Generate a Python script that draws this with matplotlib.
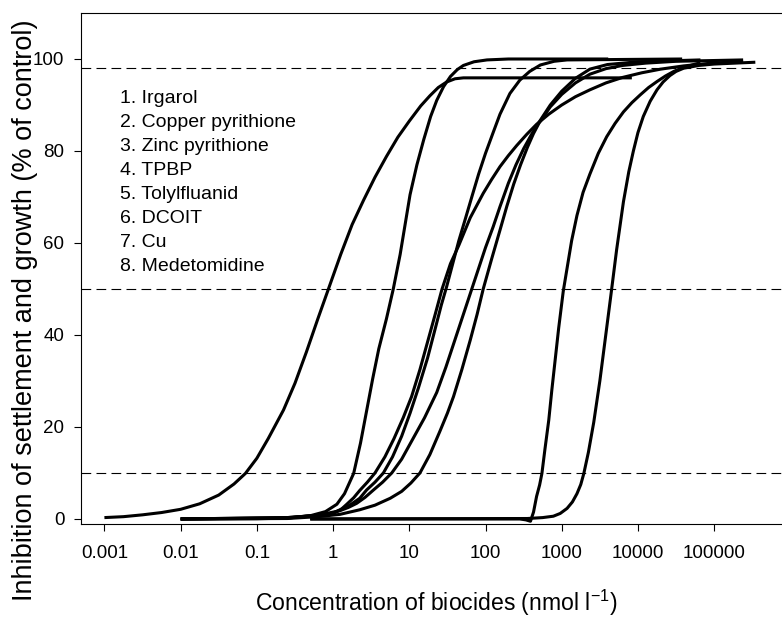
import matplotlib
matplotlib.use("Agg")
import matplotlib.pyplot as plt
from matplotlib.ticker import NullLocator
import numpy as np

plt.rcParams["font.family"] = ["Liberation Sans", "DejaVu Sans"]
plt.rcParams["mathtext.fontset"] = "custom"
plt.rcParams["mathtext.rm"] = "Liberation Sans"
plt.rcParams["mathtext.it"] = "Liberation Sans:italic"
plt.rcParams["lines.scale_dashes"] = False

# log10 of concentration (nmol/l) and inhibition (% of control)
IRGAROL_LOGC = [-3.0, -2.75, -2.5, -2.25, -2.0, -1.75, -1.5, -1.3, -1.15, -1.0, -0.85,
                -0.65, -0.5, -0.35, -0.2, -0.05, 0.1, 0.25, 0.4, 0.55, 0.7, 0.85, 1.0,
                1.15, 1.27, 1.38, 1.49, 1.6, 1.71, 3.92]
IRGAROL_INH = [0.3, 0.5, 0.9, 1.4, 2.1, 3.3, 5.2, 7.6, 9.9, 13.2, 17.5,
               23.7, 29.5, 36.3, 43.5, 50.5, 57.5, 64.0, 69.3, 74.3, 78.8, 83.0, 86.5,
               89.8, 92.0, 93.8, 95.0, 95.7, 95.9, 95.9]

CUPYR_LOGC = [-2.0, -1.0, -0.6, -0.3, -0.1, 0.05, 0.15, 0.27, 0.36, 0.44, 0.52, 0.6,
              0.7, 0.79, 0.88, 0.95, 1.01, 1.1, 1.19, 1.28, 1.36, 1.45, 1.54, 1.63,
              1.71, 1.85, 2.02, 2.3, 3.61]
CUPYR_INH = [0.0, 0.05, 0.2, 0.7, 1.6, 3.2, 5.5, 9.9, 16.5, 23.5, 30.5, 37.0,
             43.5, 50.0, 57.5, 64.5, 70.5, 77.0, 82.5, 87.5, 91.0, 94.0, 96.2, 97.7,
             98.6, 99.4, 99.8, 100.0, 100.0]

ZNPYR_LOGC = [-2.0, -0.6, -0.2, 0.0, 0.22, 0.35, 0.44, 0.55, 0.66, 0.78, 0.9, 1.01,
              1.12, 1.24, 1.35, 1.42, 1.49, 1.57, 1.65, 1.74, 1.82, 1.91, 2.0, 2.1,
              2.19, 2.32, 2.45, 2.58, 2.72, 2.9, 3.07, 4.58]
ZNPYR_INH = [0.0, 0.3, 0.8, 1.3, 3.0, 4.5, 6.3, 8.0, 10.0, 13.5, 18.0, 23.0,
             28.5, 35.0, 42.0, 46.5, 50.5, 55.5, 60.5, 65.5, 70.0, 75.0, 79.5, 84.0,
             88.0, 92.5, 95.4, 97.3, 98.7, 99.5, 99.8, 100.0]

TPBP_LOGC = [-2.0, -0.6, -0.2, 0.0, 0.1, 0.18, 0.27, 0.35, 0.45, 0.55, 0.68, 0.8,
             0.92, 1.03, 1.14, 1.24, 1.34, 1.43, 1.54, 1.65, 1.8, 1.97, 2.08, 2.19,
             2.3, 2.41, 2.54, 2.67, 2.83, 3.0, 3.18, 3.37, 3.58, 3.8, 4.05, 4.3,
             4.6, 4.9, 5.38]
TPBP_INH = [0.0, 0.3, 0.8, 1.2, 2.0, 3.2, 4.6, 6.2, 8.0, 10.0, 13.5, 17.5,
            22.0, 26.6, 32.5, 38.5, 44.5, 50.0, 55.5, 59.5, 65.5, 70.8, 73.8, 76.6,
            79.0, 81.2, 83.6, 85.8, 88.0, 90.0, 91.8, 93.3, 94.8, 96.0, 97.0, 97.8,
            98.5, 99.0, 99.5]

TOLYL_LOGC = [-2.0, -0.6, -0.2, 0.09, 0.2, 0.31, 0.42, 0.53, 0.65, 0.77, 0.9, 1.05,
              1.2, 1.36, 1.48, 1.6, 1.71, 1.82, 1.91, 2.0, 2.1, 2.19, 2.3, 2.4,
              2.5, 2.6, 2.7, 2.85, 3.0, 3.18, 3.37, 3.6, 4.0, 4.82]
TOLYL_INH = [0.0, 0.2, 0.8, 1.8, 2.5, 3.4, 4.7, 6.3, 8.0, 10.0, 13.0, 17.5,
             22.0, 27.5, 33.0, 39.0, 44.5, 50.0, 54.5, 59.0, 63.5, 67.9, 73.0, 77.0,
             80.5, 83.5, 86.2, 90.0, 93.0, 95.8, 97.8, 98.8, 99.4, 99.8]

DCOIT_LOGC = [-2.0, -0.6, -0.2, 0.09, 0.35, 0.55, 0.75, 0.9, 1.02, 1.14, 1.27, 1.4,
              1.5, 1.58, 1.69, 1.8, 1.89, 1.97, 2.08, 2.19, 2.28, 2.37, 2.46, 2.55,
              2.63, 2.7, 2.85, 3.0, 3.18, 3.37, 3.58, 3.8, 4.1, 4.5, 5.38]
DCOIT_INH = [0.0, 0.1, 0.5, 1.0, 2.0, 3.0, 4.5, 6.0, 7.8, 10.0, 14.0, 19.0,
             23.0, 26.6, 32.5, 38.9, 44.5, 50.0, 56.5, 62.8, 68.0, 72.8, 77.0, 80.8,
             83.8, 86.0, 89.6, 92.3, 94.8, 96.7, 97.9, 98.6, 99.1, 99.5, 99.8]

CU_LOGC = [-0.3, 2.55, 2.75, 2.89, 2.98, 3.07, 3.14, 3.2, 3.25, 3.29, 3.35, 3.42,
           3.5, 3.57, 3.64, 3.72, 3.81, 3.88, 3.94, 4.0, 4.07, 4.16, 4.25, 4.33,
           4.42, 4.5, 4.6, 4.8, 5.0, 5.54]
CU_INH = [0.0, 0.1, 0.3, 0.6, 1.2, 2.3, 3.7, 5.5, 7.5, 9.9, 14.5, 21.0,
          30.0, 39.0, 48.0, 58.5, 69.0, 75.5, 80.0, 84.0, 87.5, 90.8, 93.3, 95.0,
          96.4, 97.3, 98.0, 98.6, 98.9, 99.3]

MEDET_LOGC = [-0.3, 2.45, 2.53, 2.59, 2.63, 2.67, 2.71, 2.74, 2.78, 2.83, 2.87, 2.91,
              2.96, 3.02, 3.07, 3.13, 3.2, 3.28, 3.37, 3.48, 3.59, 3.7, 3.81, 3.92,
              4.03, 4.14, 4.25, 4.36, 4.47, 4.6, 4.82]
MEDET_INH = [0.0, 0.0, -0.2, -0.5, 1.5, 4.9, 7.4, 9.9, 15.2, 21.5, 28.0, 34.0,
             41.5, 49.5, 54.5, 60.5, 66.0, 71.0, 75.0, 79.5, 83.1, 86.0, 88.5, 90.5,
             92.2, 93.8, 95.1, 96.3, 97.3, 98.2, 99.2]

LEGEND_LABELS = ["1. Irgarol", "2. Copper pyrithione", "3. Zinc pyrithione", "4. TPBP",
                 "5. Tolylfluanid", "6. DCOIT", "7. Cu", "8. Medetomidine"]

REF_LEVELS = [98, 50, 10]
X_TICKS = [0.001, 0.01, 0.1, 1, 10, 100, 1000, 10000, 100000]
X_TICK_LABELS = ["0.001", "0.01", "0.1", "1", "10", "100", "1000", "10000", "100000"]
Y_TICKS = [0, 20, 40, 60, 80, 100]

CURVES = [
    (IRGAROL_LOGC, IRGAROL_INH),
    (CUPYR_LOGC, CUPYR_INH),
    (ZNPYR_LOGC, ZNPYR_INH),
    (TPBP_LOGC, TPBP_INH),
    (TOLYL_LOGC, TOLYL_INH),
    (DCOIT_LOGC, DCOIT_INH),
    (CU_LOGC, CU_INH),
    (MEDET_LOGC, MEDET_INH),
]

fig = plt.figure(figsize=(7.82, 6.19), dpi=100)
ax = fig.add_axes([0.1036, 0.1535, 0.8964, 0.8255])

for level in REF_LEVELS:
    ax.axhline(level, color="black", lw=0.8, dashes=(7, 3.8), zorder=1)

for logc, inh in CURVES:
    ax.plot(np.power(10.0, logc), inh, color="black", lw=2.2,
            solid_capstyle="butt", solid_joinstyle="round", zorder=3)

ax.set_xscale("log")
ax.set_xlim(10 ** -3.307, 10 ** 5.89)
ax.set_ylim(-1.09, 110)
ax.set_xticks(X_TICKS)
ax.set_xticklabels(X_TICK_LABELS)
ax.xaxis.set_minor_locator(NullLocator())
ax.set_yticks(Y_TICKS)

ax.tick_params(axis="both", direction="out", length=5, width=0.8, labelsize=13.5)
ax.tick_params(axis="x", pad=10)
ax.tick_params(axis="y", pad=7)
ax.spines["right"].set_visible(False)
for side in ["top", "bottom", "left"]:
    ax.spines[side].set_linewidth(0.8)

# text list in the upper left
for i, label in enumerate(LEGEND_LABELS):
    ax.text(0.0016, 91.5 - 5.24 * i, label, fontsize=14, va="center", ha="left")

fig.text(0.5575, 0.026, r"Concentration of biocides (nmol l$^{\mathrm{-1}}$)",
         fontsize=16.6, ha="center", va="center")
fig.text(0.032, 0.499, "Inhibition of settlement and growth (% of control)",
         fontsize=19.5, ha="center", va="center", rotation=90)

fig.savefig("out.png", dpi=100)
